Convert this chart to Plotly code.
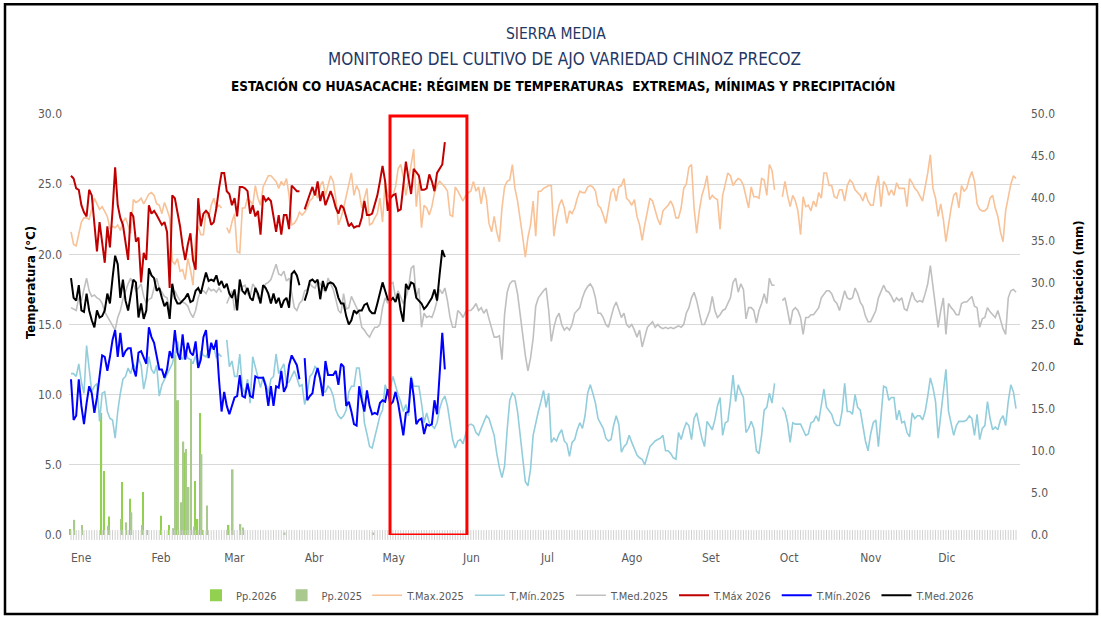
import plotly.graph_objects as go
import pandas as pd

# ---------------- data ----------------
months = ["Ene", "Feb", "Mar", "Abr", "May", "Jun", "Jul", "Ago", "Set", "Oct", "Nov", "Dic"]
month_starts = ["2025-01-01", "2025-02-01", "2025-03-01", "2025-04-01", "2025-05-01", "2025-06-01",
                "2025-07-01", "2025-08-01", "2025-09-01", "2025-10-01", "2025-11-01", "2025-12-01"]

tmax25 = [
    21.6, 20.7, 20.6, 21.5, 22.3, 22.6, 22.6, 22.5, 23.3, 24.0, 23.6, 23.2, 23.4, 23.0, 22.7, 21.8,
    22.0, 21.9, 22.1, 21.7, 22.3, 22.6, 22.0, 21.5, 23.9, 23.7, 23.8, 24.0, 23.6, 23.9, 24.3,
    24.4, 24.2, 23.6, 23.5, 22.9, 23.7, 23.2, 22.6, 19.5, 19.3, 19.7, 18.8, 18.9, 18.2, 19.7, 18.9,
    17.8, 21.2, 22.0, 21.4, 21.4, 23.1, 22.6, 23.5, 24.0, 23.3, 23.5,
    23.3, None,
    21.9, 21.5, 22.3, 22.9, 20.2,
    20.1, 23.3, 23.3, 24.0, 23.8, 23.5, 24.9, 24.0, 23.5, 24.8, 25.2, 25.6, 25.6, 25.4, 25.2, 24.7,
    25.2, 24.9, 25.4, 24.2, 22.1, 22.2, 22.5, 23.0, 22.8, 23.0, 23.3, 23.8, 24.0, 24.5, 24.0, 24.9,
    25.2, 24.2, 24.9, 25.6, 25.2, 24.0, 22.1, 22.6, 23.3, 24.2, 24.9, 25.8, 24.2, 24.9, 24.5,
    23.3, 24.0, 24.7, 22.1, 22.2, 22.6, 22.9, 24.0, 22.3, 25.2,
    24.2, 24.0, 24.2, 24.8, 26.1, 26.4, 25.5, 24.2, 25.2, 26.4,
    27.5, 23.4, 25.2, 21.9, 23.5, 23.3, 22.8, 23.4, 24.4, 24.9,
    25.2, 25.0, 24.8, 24.5, 22.8, 22.7, 24.8, 24.5, 24.1,
    23.8, 24.2, 24.4, 24.5, 25.2, 24.5, 24.8, 23.6, 24.8, 24.0,
    22.2, 21.6, 22.7, 21.6, 20.9, 23.3, 24.8, 25.2, 25.3,
    26.4, 24.7, 23.8, 22.3, 21.2, 19.8, 21.2, 22.1, 23.8, 21.3,
    24.5, 24.5, 24.7, 24.8, 24.9, 24.9, 21.3, 22.6, 23.5, 23.9,
    23.3, 22.2, 23.1, 22.9, 23.3, 24.0, 24.5, 24.4,
    24.4, 24.8, 24.9, 24.8, 24.5, 23.5, 23.3, 22.8, 22.2,
    23.3, 24.4, 24.7, 23.8, 24.8, 24.9, 25.4, 24.0, 23.8, 23.5,
    23.9, 22.7, 22.1, 21.0, 22.1, 23.1, 24.0, 23.8, 23.2,
    22.5, 22.1, 23.1, 23.3, 23.5, 23.8, 23.4, 22.6, 22.6,
    23.3, 24.7, 25.0, 26.2, 26.4, 23.3, 21.5, 23.1, 24.2, 24.8,
    25.6, 23.9, 24.2, 24.0, 23.9, 21.8, 24.2, 24.9, 25.8, 25.6,
    24.9, 25.2, 25.4, 25.3, 24.9, 24.1, 23.3, 24.8, 24.1, 24.1, 24.0, 25.4, 25.3, 24.2, 26.4, 26.0, 24.6,
    None, None,
    24.1, 25.2, 24.2, 23.4, 24.2, 23.8, 23.1, 21.4, 24.1,
    23.4, 23.5, 23.1, 23.8, 23.4, 24.4, 24.0, 25.8, 25.8, 24.9,
    24.9, 24.1, 24.0, 24.6, 24.6, 23.8, 24.9, 25.3, 25.1,
    24.6, 24.4, 24.2, 23.8, 24.4, 23.8, 23.5, 23.5, 24.8,
    25.6, 23.4, 25.2, 24.9, 24.2, 24.6, 24.2, 25.1, 24.7, 24.7,
    24.7, 23.4, 25.4, 25.1, 24.7, 24.5, 24.2, 23.8, 24.8, 25.8,
    27.1, 24.7, 24.0, 22.7, 23.6, 22.5, 20.9, 22.3, 23.3,
    24.2, 24.4, 23.3, 24.9, 24.5, 24.7, 25.4, 25.9, 25.2,
    23.6, 23.2, 23.1, 23.1, 23.3, 24.0, 24.2, 23.3,
    22.7, 21.6, 20.9, 23.1, 24.1, 25.0, 25.6, 25.4,
]

tmin25 = [
    11.5, 11.5, 11.3, 12.2, 10.9, 10.1, 13.5, 12.0, 10.2, 10.6,
    10.8, 8.1, 10.1, 10.2, 8.8, 8.3, 8.2, 6.9, 8.8, 10.1,
    11.1, 11.3, 11.9, 11.5, 12.2, 11.8, 12.6, 12.1, 10.4, 11.3,
    12.7, 11.8, 11.5, 12.1, 9.9, 10.7, 11.1, 11.5, 11.9, 12.2,
    12.9, 13.8, 12.7, 12.5, 13.2, 12.6, 12.5, 12.2, 12.8, 11.9,
    13.1, 12.8, 12.7, 13.1, 13.3, 13.4, 12.6, 12.9, 12.7,
    None,
    13.9, 12.0, 12.4, 11.3, 11.3, 12.9, 10.5, 10.1, 11.1, 9.4,
    12.7, 12.0, 11.1, 10.5, 11.3, 10.8, 10.1, 11.1, 11.3, 12.9,
    11.5, 11.9, 12.2, 10.8, 10.9, 11.3, 11.7, 11.2, 10.6, 10.7,
    9.3, 10.1, 11.3, 11.5, 12.0, 11.8, 11.1, 10.2, 10.2, 10.6,
    10.4, 9.9, 8.9, 8.5, 8.3, 8.5, 8.9, 10.2, 10.6, 10.6,
    11.9, 11.9,
    10.4, 8.0, 7.2, 6.3, 6.2, 6.9, 7.8, 8.5, 8.9, 10.7,
    10.1, 10.5, 11.3, 10.6, 10.0, 9.5, 8.8, 9.3, 8.5, 11.3,
    10.6, 10.6, 10.6, 9.4, 8.0, 8.7, 8.0, 7.8, 7.6, 8.0,
    9.0, 9.6, 9.9, 9.2, 7.9, 6.8, 6.2, 6.7, 6.8, 6.5,
    7.2, 7.8, 7.9, 7.8, 7.3, 7.1, 7.6, 8.1, 8.5, 8.3,
    7.6, 7.1, 5.8, 4.8, 4.1, 4.9, 7.5, 9.6, 10.1, 9.9,
    8.8, 7.1, 5.2, 3.8, 3.5, 4.7, 7.1, 8.0, 8.8, 9.5,
    10.3, 9.1, 10.1, 6.6, 6.9, 6.7, 7.2, 7.5, 6.7, 6.5,
    5.6, 6.6, 6.8, 7.5, 8.0, 7.6, 8.5, 10.1, 10.7, 10.1,
    9.4, 8.3, 7.9, 7.6, 6.9, 6.7, 6.8, 7.8, 8.5, 7.9,
    5.9, 6.3, 6.5, 7.1, 6.6, 6.2, 5.7, 5.5, 5.4, 5.0,
    5.6, 6.3, 6.5, 6.7, 6.8, 6.9, 7.1, 6.0, 6.0, 5.8,
    5.5, 5.4, 7.3, 6.8, 7.5, 8.0, 7.8, 6.8, 8.3, 8.7,
    7.8, 6.9, 6.3, 8.1, 7.8, 7.5, 8.2, 9.2, 9.8,
    7.1, 8.0, 8.1, 9.6, 11.4, 9.5, 10.7, 10.2, 9.8, 7.3, 7.6, 8.1, 7.6, 6.0, 5.8, 7.1, 8.9, 9.1,
    10.1, 9.4, 10.8,
    None, None,
    9.1, 8.8, 8.0, 6.6, 8.0, 7.9, 7.9, 7.9, 7.5, 7.1,
    7.2, 8.0, 8.1, 8.5, 8.1, 9.2, 10.4, 9.1, 8.8, 8.6,
    8.0, 7.8, 7.8, 8.8, 10.8, 8.8, 8.8, 8.6, 10.0, 9.1,
    8.9, 7.8, 6.7, 6.0, 7.2, 8.0, 8.2, 6.3, 8.8, 10.6,
    10.5, 9.6, 9.8, 9.8, 8.2, 8.9, 8.0, 8.1, 7.3, 7.0,
    8.7, 8.3, 8.5, 8.5, 8.2, 8.8, 9.9, 11.2, 10.5, 9.5,
    6.9, 8.7, 10.2, 11.8, 8.8, 7.9, 7.1, 7.8, 8.1, 8.1,
    8.1, 8.2, 8.5, 8.3, 7.1, 8.6, 6.8, 7.6, 7.8, 9.5,
    8.3, 7.5, 7.7, 7.5, 8.2, 8.5, 7.8, 9.5, 10.7, 10.2,
    9.0,
]

tmed25 = [
    16.2, 16.1, 16.0, 16.9, 16.7, 17.5, 18.3, 17.4, 17.0, 17.1,
    16.9, 16.8, 16.5, 15.9, 15.6, 15.3, 14.9, 14.6, 15.5, 16.0,
    16.8, 17.4, 17.9, 18.3, 17.9, 17.4, 17.6, 17.9, 17.0, 16.5,
    16.8, 16.9, 17.6, 18.3, 17.6, 17.3, 17.0, 16.9, 16.0, 17.1,
    17.4, 17.0, 16.7, 16.6, 16.5, 16.3, 15.8, 15.5, 16.0, 16.9,
    17.4, 17.4, 17.2, 17.6, 17.4, 17.5, 17.3, 17.6, 17.3,
    None,
    16.5, 16.9, 17.4, 16.0, 17.0, 17.4, 17.7, 17.8, 17.2, 17.0,
    17.9, 17.6, 16.9, 16.9, 17.5, 17.9, 18.0, 18.2, 18.8, 19.3,
    18.6, 18.5, 18.8, 18.1, 18.3, 17.3, 16.2, 16.0, 16.5, 16.7,
    17.4, 17.5, 17.9, 17.7, 17.6, 18.1, 17.9, 17.6, 17.3, 18.3,
    17.9, 17.5, 16.8, 16.0, 15.8, 17.2, 16.1, 16.2, 17.0, 16.6,
    16.1, 15.8,
    14.8, 14.6, 14.3, 14.1, 14.5, 14.8, 14.8, 15.0, 16.2, 16.9,
    16.5, 17.9, 18.0, 16.9, 17.4, 16.9, 16.5, 16.9, 17.6, 19.0,
    19.2, 16.9, 17.6, 14.8, 15.8, 15.5, 15.6, 15.5, 16.0, 16.7,
    17.5, 17.2, 17.6, 16.7, 15.5, 14.8, 14.8, 16.0, 15.8, 15.5,
    15.9, 16.0, 16.0, 16.2, 16.5, 16.0, 16.2, 15.8, 16.1, 15.4,
    14.8, 14.1, 14.1, 14.2, 12.5, 15.7, 17.3, 17.9, 18.1, 18.1,
    17.2, 15.7, 14.3, 12.8, 11.7, 12.6, 14.0, 16.3, 16.9, 17.2,
    17.4, 17.6, 16.0, 13.8, 14.8, 15.5, 15.8, 15.0, 14.6, 14.8,
    14.6, 15.0, 15.8, 16.0, 16.2, 16.9, 17.4, 17.7, 17.9, 17.6,
    16.9, 15.8, 15.8, 15.5, 15.0, 14.8, 15.5, 16.2, 16.6, 16.0,
    15.5, 15.8, 15.0, 14.8, 15.0, 14.6, 14.1, 14.6, 13.4, 14.1,
    14.8, 15.0, 15.2, 14.8, 15.0, 14.8, 14.7, 14.8, 14.7, 14.8,
    14.7, 14.8, 14.9, 14.8, 15.0, 15.8, 16.2, 16.9, 17.3, 16.7,
    15.8, 15.0, 15.0, 15.5, 16.0, 17.0, 16.0, 15.5,
    15.7, 16.0, 16.1, 16.5, 16.9, 18.0, 18.3, 17.3, 17.9, 17.5, 15.4, 16.2, 16.2, 16.0, 15.1, 16.0,
    16.5, 17.2, 16.5, 18.3, 17.8, 17.8,
    None, None,
    16.7, 16.9, 16.0, 15.0, 16.0, 16.2, 16.0, 15.5, 14.3, 15.5,
    15.5, 15.7, 15.7, 16.0, 16.2, 16.9, 17.2, 17.4, 17.4, 17.2,
    16.7, 16.5, 16.0, 16.7, 17.4, 16.9, 16.8, 16.9, 17.6, 17.2,
    16.6, 16.3, 15.6, 15.2, 15.2, 15.6, 16.0, 16.9, 17.3, 17.8,
    17.4, 17.3, 17.0, 16.6, 16.9, 16.7, 16.9, 16.1, 16.0, 16.6,
    17.3, 16.8, 16.6, 16.7, 16.6, 17.2, 17.9, 19.2, 17.6, 16.3,
    14.8, 16.0, 16.9, 14.3, 16.5, 16.2, 16.0, 15.7, 15.7, 16.5,
    16.6, 16.6, 16.8, 17.0, 16.3, 16.2, 14.8, 15.4, 15.5, 16.2,
    15.9, 15.7, 15.5, 16.0, 15.4, 14.7, 14.3, 16.9, 17.4, 17.5,
    17.3,
]

tmax26 = [
    25.6, 25.4, 24.7, 24.6, 23.5, 23.0, 22.7, 24.6, 24.2, 22.3,
    20.2, 22.3, 20.6, 19.4, 22.0, 20.5, 23.1, 26.2, 23.5, 22.6,
    22.1, 20.9, 19.6, 23.0, 22.7, 20.9, 21.2, 18.0, 20.1, 19.6,
    23.5, 22.9, 23.1, 22.8, 22.5, 22.1, 22.3, 21.6, 17.6, 24.2,
    24.0, 23.1, 22.0, 20.6, 19.6, 20.7, 21.5, 19.6, 18.9, 24.0,
    22.0, 22.9, 23.1, 22.9, 22.1, 22.3, 23.3, 24.7, 25.8, 25.8,
    24.5, 24.3, 23.5, 24.0, 22.7, 24.8, 24.8, 24.7, 24.5, 22.9,
    23.5, 22.7, 23.1, 21.4, 24.2, 23.8, 24.0, 23.8, 22.7, 21.6,
    22.8, 21.4, 22.8, 22.8, 21.8, 24.9, 24.7, 24.5, 24.5,
    None,
    23.2, 23.8, 24.3, 24.8, 24.2, 25.2, 23.8, 24.5, 23.5, 24.0, 24.5, 24.0, 23.3, 22.9, 23.5, 23.3,
    22.7, 22.0, 22.2, 21.9, 22.0, 22.0,
    22.6, 23.8, 22.8, 22.8, 22.9, 23.5, 24.2, 25.2, 26.3, 25.2, 23.1, 24.0, 24.2, 24.3, 23.1, 23.2,
    25.0, 26.6, 25.4, 24.3, 26.1, 25.8, 25.6, 24.6, 24.6, 24.7, 25.7, 25.2, 24.5, 25.8, 26.1, 26.4,
    28.0,
]

tmin26 = [
    11.1, 8.2, 8.5, 11.1, 9.2, 7.9, 9.4, 10.6, 10.1, 8.7,
    9.8, 11.3, 12.8, 12.7, 11.7, 12.7, 13.9, 14.6, 12.7,
    14.4, 12.7, 13.1, 13.3, 13.3, 11.9, 11.3, 13.0, 13.1, 12.7,
    12.2, 14.8, 14.1, 13.7, 12.6, 11.8, 11.8, 11.2, 11.8, 13.1,
    12.6, 14.6, 13.0, 12.5, 14.3, 12.5, 13.7, 13.0, 12.8,
    13.8, 11.9, 12.5, 14.1, 14.6, 12.6, 13.7, 13.2, 13.9,
    11.1, 8.8, 10.2, 9.2, 8.6, 9.3, 9.8, 9.9, 11.4, 9.9,
    9.8, 10.8, 9.9, 9.8, 11.3, 11.2, 11.2, 11.2, 10.6,
    9.2, 10.6, 9.2, 10.6, 10.5, 11.7, 10.2, 10.6, 12.1,
    12.8, 12.4, 12.1, 11.1,
    None,
    12.6, 9.6, 9.9, 10.1, 11.3, 11.9, 11.1, 9.9, 12.4, 11.4, 11.4, 11.4, 11.7, 10.7, 12.2, 12.0,
    9.2, 9.5, 8.8, 7.9, 7.8, 10.6,
    9.6, 8.8, 10.3, 9.2, 8.6, 8.7, 8.6, 9.4, 9.6, 9.5, 10.4, 9.3, 9.5, 10.2, 9.4, 8.2,
    7.1, 8.7, 8.8, 11.2, 9.9, 7.9, 8.2, 8.3, 7.2, 7.9, 7.8, 7.9, 9.6, 8.6, 11.8, 14.4,
    11.8,
]

tmed26 = [
    18.3, 16.9, 16.7, 17.8, 16.0, 15.9, 17.2, 16.0, 15.3,
    14.8, 16.0, 15.5, 15.6, 16.0, 17.2, 16.5, 18.3, 19.9, 19.3,
    16.9, 18.2, 16.7, 16.0, 17.2, 18.2, 18.0, 15.5, 16.5,
    15.4, 16.0, 19.0, 18.5, 18.3, 17.4, 17.6, 16.9, 16.3,
    16.6, 15.4, 17.9, 16.9, 16.5, 16.5, 16.7, 16.9, 17.2, 16.6,
    16.7, 17.4, 17.6, 17.2, 18.0, 18.7, 18.1, 18.2, 18.1, 18.5,
    17.8, 18.1, 17.6, 17.9, 17.2, 16.9, 17.5, 16.0, 18.2,
    17.4, 17.2, 17.6, 16.9, 16.7, 17.6, 17.2, 16.5, 17.8, 17.6,
    17.2, 16.5, 17.2, 16.5, 16.9, 16.2, 16.7, 16.9, 16.2,
    18.6, 18.8, 18.5, 17.8,
    None,
    16.7, 17.3, 18.1, 18.2, 18.0, 18.2, 16.8, 18.1, 17.4, 17.9, 18.0, 17.9, 17.6, 16.9, 16.5, 16.5,
    15.6, 15.0, 15.3, 16.0, 15.8, 16.0,
    16.0, 16.4, 16.5, 16.0, 15.8, 15.8, 16.5, 17.2, 18.0, 17.4, 16.8, 16.7, 16.9, 16.6, 17.2, 16.0,
    15.2, 17.9, 17.5, 18.0, 17.9, 16.9, 16.7, 16.5, 16.1, 16.3, 16.6, 16.9, 17.5, 16.7, 18.6, 20.3,
    19.8,
]

# precipitation (day of year index, mm)
pp2026_day = [0, 12, 13, 15, 20, 23, 28, 35, 38, 41, 44, 45, 48, 49, 50, 51, 53, 61]
pp2026_mm = [0.7, 14.5, 7.6, 2.2, 6.3, 4.3, 5.1, 2.3, 1.2, 16.0, 9.8, 1.6, 6.4, 1.9, 14.5, 0.6, 0.5, 1.2]
pp2025_day = [1, 4, 14, 19, 21, 23, 27, 29, 39, 40, 41, 42, 43, 44, 45, 46, 47, 50, 52, 60, 62, 65, 66, 82, 116]
pp2025_mm = [1.8, 1.2, 1.1, 1.9, 1.5, 2.7, 1.2, 0.6, 0.8, 21.4, 16.0, 3.9, 11.1, 10.2, 5.7, 20.9, 1.0, 9.6,
             3.5, 0.6, 7.8, 1.3, 0.9, 0.3, 0.3]

# ---------------- figure ----------------
days = [d.strftime("%Y-%m-%d") for d in pd.date_range("2025-01-01", periods=365, freq="D")]
DAY_MS = 86400000
FONT = "Liberation Sans Narrow, DejaVu Sans Condensed, Arial Narrow, sans-serif"
GRAY_TXT = "#595959"

fig = go.Figure()

fig.add_trace(go.Bar(name="Pp.2026", x=[days[d] for d in pp2026_day], y=pp2026_mm,
                     marker=dict(color="#92D050", line=dict(width=0)),
                     width=0.6 * DAY_MS, offset=-0.6 * DAY_MS, yaxis="y"))
fig.add_trace(go.Bar(name="Pp.2025", x=[days[d] for d in pp2025_day], y=pp2025_mm,
                     marker=dict(color="#A9C98E", line=dict(width=0)),
                     width=0.6 * DAY_MS, offset=0, yaxis="y"))

# daily baseline hatch at zero
fig.add_trace(go.Scatter(x=days, y=[0] * len(days), mode="markers", yaxis="y2",
                         marker=dict(symbol="line-ns", size=7, line=dict(width=1, color="#d0d0d0")),
                         showlegend=False, hoverinfo="skip", cliponaxis=False))

lines = [
    ("T.Max.2025", tmax25, "#F8C196", 1.6),
    ("T,Mín.2025", tmin25, "#92CDDC", 1.6),
    ("T.Med.2025", tmed25, "#BFBFBF", 1.6),
    ("T.Máx 2026", tmax26, "#C00000", 2.0),
    ("T.Mín.2026", tmin26, "#0000FF", 2.0),
    ("T.Med.2026", tmed26, "#000000", 2.0),
]
for name, vals, col, w in lines:
    fig.add_trace(go.Scatter(name=name, x=days[:len(vals)], y=vals, mode="lines", yaxis="y2",
                             line=dict(color=col, width=w), connectgaps=False))

fig.update_layout(
    width=1101, height=622,
    margin=dict(l=69, r=81, t=114, b=82),
    paper_bgcolor="white", plot_bgcolor="white",
    font=dict(family=FONT, color=GRAY_TXT, size=12),
    barmode="overlay",
    showlegend=True,
    legend=dict(orientation="h", x=(588 - 69) / 951, xanchor="center", y=(540 - 601) / 426,
                yanchor="middle", font=dict(size=11, color=GRAY_TXT, family=FONT), itemwidth=30,
                traceorder="normal"),
    xaxis=dict(type="date", range=["2024-12-31 05:30", "2026-01-01 12:45"],
               tickmode="array", tickvals=month_starts, ticktext=months,
               ticklabelposition="outside right", ticks="", showgrid=False, showline=False,
               zeroline=False, tickfont=dict(size=12, color=GRAY_TXT), ticklabelstandoff=14),
    yaxis=dict(side="right", range=[0, 50], tickmode="array", tickvals=list(range(0, 51, 5)),
               tickformat=".1f", showgrid=False, zeroline=False, showline=False, ticks="",
               tickfont=dict(size=12, color=GRAY_TXT), ticklabelstandoff=10),
    yaxis2=dict(overlaying="y", side="left", range=[0, 30], tickmode="array",
                tickvals=list(range(0, 31, 5)), tickformat=".1f", showgrid=True,
                gridcolor="#d9d9d9", gridwidth=1, zeroline=False, showline=False, ticks="",
                tickfont=dict(size=12, color=GRAY_TXT), ticklabelstandoff=6),
)

# titles
fig.add_annotation(text="SIERRA MEDIA", xref="paper", yref="paper", xanchor="center", yanchor="middle",
                   x=(556 - 69) / 951, y=(540 - 33) / 426,
                   showarrow=False, font=dict(size=15.5, color="#1F3864", family=FONT))
fig.add_annotation(text="MONITOREO DEL CULTIVO DE AJO VARIEDAD CHINOZ PRECOZ", xref="paper", yref="paper",
                   xanchor="center", yanchor="middle",
                   x=(564 - 69) / 951, y=(540 - 58) / 426, showarrow=False,
                   font=dict(size=17, color="#1F3864", family=FONT))
fig.add_annotation(text="<b>ESTACIÓN CO HUASACACHE: RÉGIMEN DE TEMPERATURAS  EXTREMAS, MÍNIMAS Y PRECIPITACIÓN</b>",
                   xref="paper", yref="paper", xanchor="center", yanchor="middle",
                   x=(563 - 69) / 951, y=(540 - 85) / 426, showarrow=False,
                   font=dict(size=13.4, color="#000000", family=FONT))
# axis titles
fig.add_annotation(text="<b>Temperatura (°C)</b>", xref="paper", yref="paper", xanchor="center",
                   yanchor="middle", x=(31 - 69) / 951, y=(540 - 285) / 426, textangle=-90,
                   showarrow=False, font=dict(size=13, color="#000000", family=FONT))
fig.add_annotation(text="<b>Precipitación (mm)</b>", xref="paper", yref="paper", xanchor="center",
                   yanchor="middle", x=(1079 - 69) / 951, y=(540 - 285) / 426, textangle=-90,
                   showarrow=False, font=dict(size=13, color="#000000", family=FONT))

# highlight box
fig.add_shape(type="rect", xref="x", yref="y2", x0="2025-05-03 21:00", x1="2025-06-02 12:00",
              y0=0, y1=29.85, line=dict(color="#FF0000", width=3), fillcolor="rgba(0,0,0,0)")
# outer frame
fig.add_shape(type="rect", xref="paper", yref="paper", x0=(5 - 69) / 951, x1=(1097 - 69) / 951,
              y0=(540 - 620) / 426, y1=(540 - 3) / 426, line=dict(color="#000000", width=2.5))

fig.write_html("out.html", config={"displayModeBar": False},
               post_script="document.body.style.margin='0px';document.body.style.overflow='hidden';")
